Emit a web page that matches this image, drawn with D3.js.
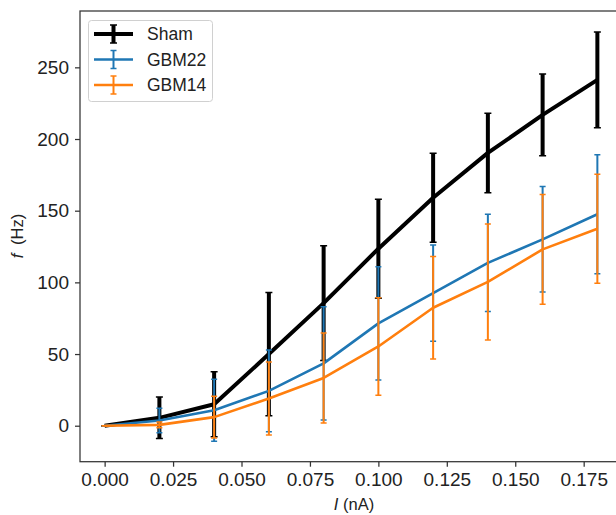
<!DOCTYPE html>
<html>
<head>
<meta charset="utf-8">
<script src="https://cdn.jsdelivr.net/npm/d3@7"></script>
<style>
  body { margin: 0; background: #fff; }
  svg { display: block; font-family: "Liberation Sans", Arial, sans-serif; }
</style>
</head>
<body>
<div id="chart"></div>
<script>
// current steps (nA)
var current = [0, 0.02, 0.04, 0.06, 0.08, 0.10, 0.12, 0.14, 0.16, 0.18];

// firing rate means and error (Hz)
var shamMean  = [0, 5.5, 15, 50, 85.5, 123.5, 159, 190.3, 216.8, 241.3];
var shamErr   = [0, 14.5, 22.7, 43, 40, 34.5, 31, 27.7, 28.5, 33.4];
var gbm22Mean = [0, 3.6, 10.8, 24.3, 43.5, 71.4, 92.5, 113.6, 130, 147.5];
var gbm22Err  = [0, 8.5, 21.7, 28.5, 39.5, 39.5, 33.5, 34, 36.8, 41.5];
var gbm14Mean = [0, 0.6, 6, 19, 33.3, 55.3, 82.3, 100.3, 123, 137.4];
var gbm14Err  = [0, 2, 14.5, 25.5, 31.4, 34, 35.7, 40.5, 38.3, 38];

var seriesNames = ['Sham', 'GBM22', 'GBM14'];
var xTicks = [0, 0.025, 0.05, 0.075, 0.1, 0.125, 0.15, 0.175];
var yTicks = [0, 50, 100, 150, 200, 250];

var width = 616, height = 515;
var plotLeft = 80, plotTop = 11, plotRight = 622, plotBottom = 461.7;

var svg = d3.select('#chart').append('svg')
    .attr('width', width)
    .attr('height', height);

var x = d3.scaleLinear().domain([-0.009, 0.189]).range([plotLeft, plotRight]);
var y = d3.scaleLinear().domain([-25.1, 289.3]).range([plotBottom, plotTop]);

svg.append('clipPath').attr('id', 'plot-clip')
  .append('rect')
    .attr('x', plotLeft).attr('y', plotTop)
    .attr('width', plotRight - plotLeft).attr('height', plotBottom - plotTop);

var series = [
  { name: seriesNames[0], mean: shamMean, err: shamErr, color: '#000000', lw: 4, ew: 4, cap: 3.5 },
  { name: seriesNames[1], mean: gbm22Mean, err: gbm22Err, color: '#1f77b4', lw: 2.6, ew: 2, cap: 3 },
  { name: seriesNames[2], mean: gbm14Mean, err: gbm14Err, color: '#ff7f0e', lw: 2.6, ew: 2, cap: 3 }
];

var plot = svg.append('g').attr('clip-path', 'url(#plot-clip)');

var line = d3.line()
    .x(function(d) { return x(d.x); })
    .y(function(d) { return y(d.y); });

series.forEach(function(s) {
  var pts = current.map(function(c, i) {
    return { x: c, y: s.mean[i], lo: s.mean[i] - s.err[i], hi: s.mean[i] + s.err[i] };
  });
  var g = plot.append('g');

  g.selectAll('line.bar')
    .data(pts)
    .enter()
    .append('line')
    .attr('class', 'bar')
    .attr('x1', function(d) { return x(d.x); })
    .attr('x2', function(d) { return x(d.x); })
    .attr('y1', function(d) { return y(d.lo); })
    .attr('y2', function(d) { return y(d.hi); })
    .attr('stroke', s.color)
    .attr('stroke-width', s.ew);

  // caps top and bottom
  ['lo', 'hi'].forEach(function(k) {
    g.selectAll('line.cap-' + k)
      .data(pts)
      .enter()
      .append('line')
      .attr('class', 'cap-' + k)
      .attr('x1', function(d) { return x(d.x) - s.cap; })
      .attr('x2', function(d) { return x(d.x) + s.cap; })
      .attr('y1', function(d) { return y(d[k]); })
      .attr('y2', function(d) { return y(d[k]); })
      .attr('stroke', s.color)
      .attr('stroke-width', 1.5);
  });

  g.append('path')
    .datum(pts)
    .attr('d', line)
    .attr('fill', 'none')
    .attr('stroke', s.color)
    .attr('stroke-width', s.lw)
    .attr('stroke-linejoin', 'round');
});

// axes
var xAxis = svg.append('g')
    .attr('transform', 'translate(0,' + plotBottom + ')')
    .call(d3.axisBottom(x).tickValues(xTicks).tickFormat(d3.format('.3f')).tickSize(5).tickPadding(6));
var yAxis = svg.append('g')
    .attr('transform', 'translate(' + plotLeft + ',0)')
    .call(d3.axisLeft(y).tickValues(yTicks).tickFormat(d3.format('d')).tickSize(5).tickPadding(6));

[xAxis, yAxis].forEach(function(a) {
  a.select('.domain').remove();
  a.selectAll('.tick line').attr('stroke', '#333').attr('stroke-width', 1.25);
  a.selectAll('.tick text').attr('fill', '#222').style('font-size', '19px')
    .style('font-family', '"Liberation Sans", Arial, sans-serif');
});

// spines
svg.append('rect')
    .attr('x', plotLeft).attr('y', plotTop)
    .attr('width', plotRight - plotLeft).attr('height', plotBottom - plotTop)
    .attr('fill', 'none')
    .attr('stroke', '#333')
    .attr('stroke-width', 1.25);

// axis labels
var xl = svg.append('text')
    .attr('x', (plotLeft + plotRight) / 2 + 3)
    .attr('y', 510)
    .attr('text-anchor', 'middle')
    .attr('fill', '#222')
    .style('font-size', '16.5px');
xl.append('tspan').style('font-style', 'italic').text('I');
xl.append('tspan').text(' (nA)');

var yl = svg.append('text')
    .attr('transform', 'translate(23,236) rotate(-90)')
    .attr('text-anchor', 'middle')
    .attr('fill', '#222')
    .style('font-size', '16.5px');
yl.append('tspan').style('font-style', 'italic').text('f');
yl.append('tspan').attr('dx', 4).text(' (Hz)');

// legend
var legend = svg.append('g');
legend.append('rect')
    .attr('x', 88.5).attr('y', 20.5)
    .attr('width', 124).attr('height', 81)
    .attr('rx', 3).attr('ry', 3)
    .attr('fill', '#fff')
    .attr('fill-opacity', 0.8)
    .attr('stroke', '#d0d0d0')
    .attr('stroke-width', 1);

series.forEach(function(s, i) {
  var cy = 34 + i * 25.5;
  var item = legend.append('g');
  item.append('line')
    .attr('x1', 94).attr('x2', 133)
    .attr('y1', cy).attr('y2', cy)
    .attr('stroke', s.color).attr('stroke-width', s.lw);
  item.append('line')
    .attr('x1', 113.5).attr('x2', 113.5)
    .attr('y1', cy - 9).attr('y2', cy + 9)
    .attr('stroke', s.color).attr('stroke-width', s.ew);
  [cy - 9, cy + 9].forEach(function(cyy) {
    item.append('line')
      .attr('x1', 113.5 - s.cap).attr('x2', 113.5 + s.cap)
      .attr('y1', cyy).attr('y2', cyy)
      .attr('stroke', s.color).attr('stroke-width', 1.5);
  });
  item.append('text')
    .attr('x', 147)
    .attr('y', cy + 6)
    .attr('fill', '#222')
    .style('font-size', '17.5px')
    .text(s.name);
});
</script>
</body>
</html>
